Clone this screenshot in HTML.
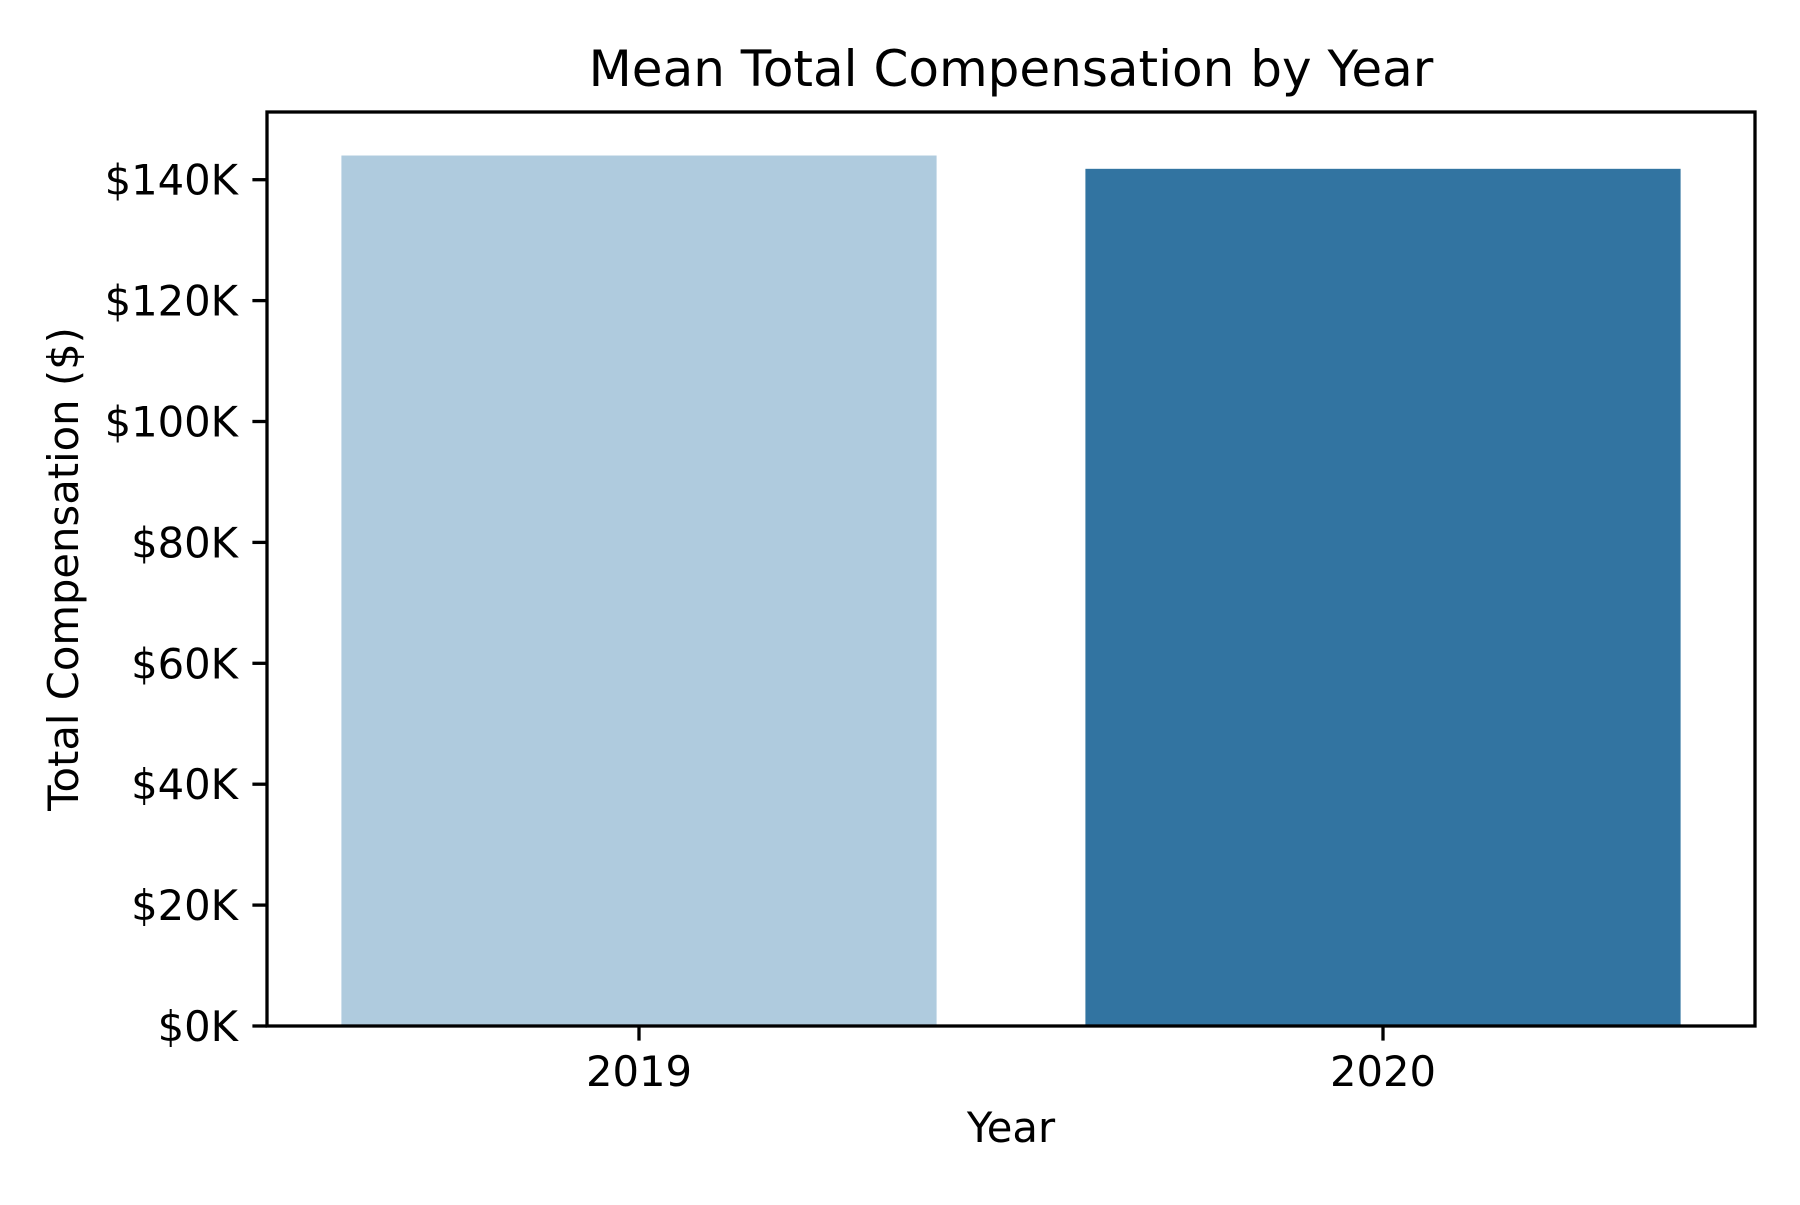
<!DOCTYPE html>
<html><head><meta charset="utf-8"><style>
html,body{margin:0;padding:0;background:#fff}
svg text{font-family:"DejaVu Sans","Liberation Sans",sans-serif;fill:#000}
</style></head><body>
<svg id="chart" width="1800" height="1200" viewBox="0 0 1800 1200" xmlns="http://www.w3.org/2000/svg">
<rect width="1800" height="1200" fill="#fff"/>
<text x="1011" y="86" font-size="50" text-anchor="middle">Mean Total Compensation by Year</text>
<g id="bars"></g>
<g id="axes"></g>
<text x="1011" y="1142" font-size="41.7" text-anchor="middle">Year</text>
<text transform="translate(78,569) rotate(-90)" font-size="41.7" text-anchor="middle">Total Compensation ($)</text>
</svg>
<script>
const categories = ["2019", "2020"];
const values = [144000, 141800];
const colors = ["#afcbde", "#3274a1"];
const yTicks = [0, 20000, 40000, 60000, 80000, 100000, 120000, 140000];
const yTickLabels = ["$0K","$20K","$40K","$60K","$80K","$100K","$120K","$140K"];

const NS = "http://www.w3.org/2000/svg";
const L = 267, R = 1755, T = 112, B = 1026;
const yMax = Math.max(...values) * 1.05;
const y = v => B - (v / yMax) * (B - T);
const band = (R - L) / categories.length;
const xc = i => L + band * (i + 0.5);
const bw = band * 0.8;
function mk(tag, attrs){const e=document.createElementNS(NS,tag);for(const k in attrs)e.setAttribute(k,attrs[k]);return e;}
const bars = document.getElementById('bars');
const axes = document.getElementById('axes');
categories.forEach((c,i)=>{
  const r = mk('rect',{x:xc(i)-bw/2,y:y(values[i]),width:bw,height:B-y(values[i]),fill:colors[i]});
  
  
  bars.appendChild(r);
  const t = mk('line',{x1:xc(i),x2:xc(i),y1:B,y2:B+14.6,stroke:'#000','stroke-width':3.3});
  
  
  axes.appendChild(t);
  const lb = mk('text',{x:xc(i),y:1086,'font-size':41.7,'text-anchor':'middle'});
  lb.textContent = c;
  
  
  axes.appendChild(lb);
});
yTicks.forEach((v,i)=>{
  const t = mk('line',{x1:L-14.6,x2:L,y1:y(v),y2:y(v),stroke:'#000','stroke-width':3.3});
  
  
  axes.appendChild(t);
  const lb = mk('text',{x:L-29,y:y(v)+15,'font-size':41.7,'text-anchor':'end'});
  lb.textContent = yTickLabels[i];
  
  
  axes.appendChild(lb);
});
const frame = mk('rect',{x:L,y:T,width:R-L,height:B-T,fill:'none',stroke:'#000','stroke-width':3.3});


axes.appendChild(frame);
</script>
</body></html>
